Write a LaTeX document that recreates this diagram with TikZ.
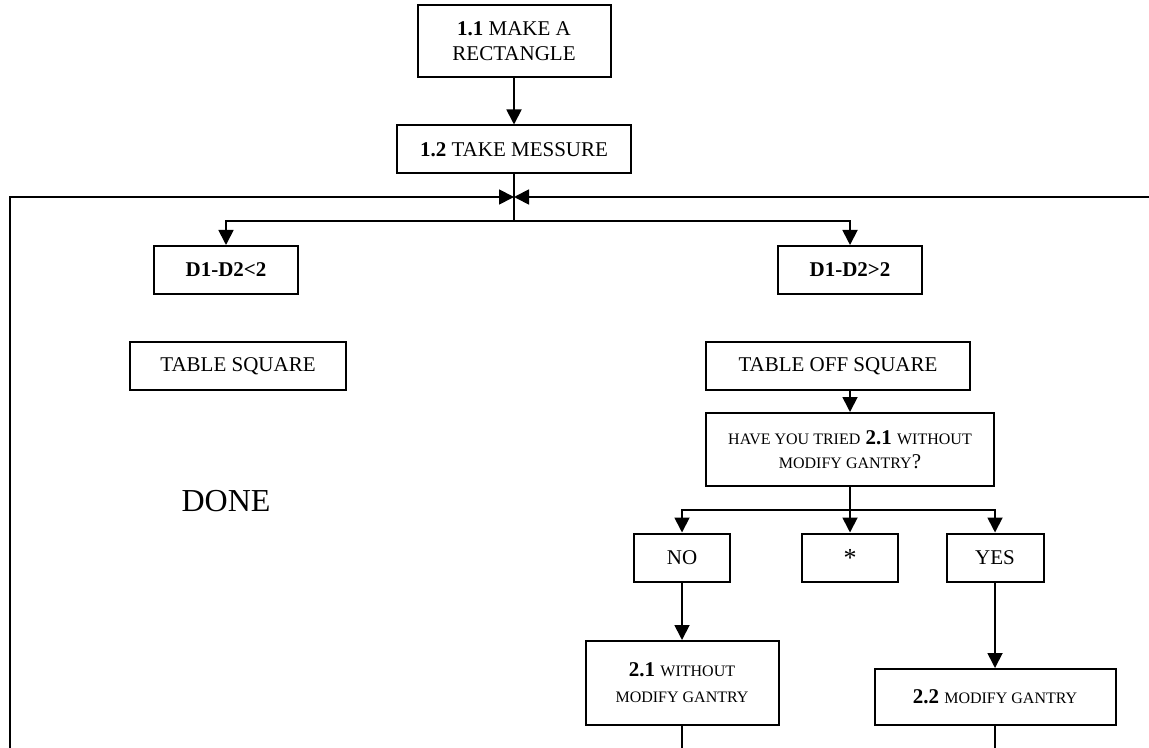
\documentclass[tikz,border=0pt]{standalone}
\usepackage{fontspec}
\setmainfont{Liberation Serif}
\usetikzlibrary{arrows.meta,positioning}
\newcommand{\lowcaps}[1]{{\fontsize{8}{12}\selectfont #1}}

\begin{document}
\begin{tikzpicture}[x=0.5pt,y=-0.5pt,>={Triangle[width=7.5pt,length=7.5pt]},
    line width=0.9pt,font=\fontsize{10.5}{12.5}\selectfont]
  \tikzset{box/.style={draw,line width=1pt,inner sep=0pt,align=center,minimum height=24pt}}
  \useasboundingbox (0,0) rectangle (1149,748);

  \node[box,minimum width=96.5pt,minimum height=36pt] (r11) at (514,41) {\textbf{1.1} MAKE A\\RECTANGLE};
  \node[box,minimum width=117pt] (r12) [below of=r11,node distance=54.25pt] {\textbf{1.2} TAKE MESSURE};

  \node[box,minimum width=72pt] (lt) at (226,270) {\textbf{D1-D2<2}};
  \node[box,minimum width=72pt] (gt) at (850,270) {\textbf{D1-D2>2}};

  \node[box,minimum width=108pt] (sq) at (238,366) {TABLE SQUARE};
  \node (done) [below of=lt,node distance=115.5pt,font=\fontsize{16}{18}\selectfont] {DONE};

  \node[box,minimum width=132pt] (off) at (838,366) {TABLE OFF SQUARE};
  \node[box,minimum width=144pt,minimum height=36.5pt,font=\fontsize{10.5}{12}\selectfont] (ask)
       [below of=gt,node distance=89.75pt]
       {\lowcaps{HAVE YOU TRIED} \textbf{2.1} \lowcaps{WITHOUT}\\\lowcaps{MODIFY GANTRY}?};

  \node[box,minimum width=48pt] (star) [below of=ask,node distance=54pt]
       {\raisebox{-0.32em}{\fontsize{13}{13}\selectfont *}};
  \node[box,minimum width=48pt] (no) [left of=star,node distance=84pt] {NO};
  \node[box,minimum width=48.5pt] (yes) [right of=star,node distance=72.5pt] {YES};

  \node[box,minimum width=96.5pt,minimum height=42pt,font=\fontsize{10.5}{13}\selectfont] (wo)
       [below of=no,node distance=62.75pt] {\textbf{2.1} \lowcaps{WITHOUT}\\\lowcaps{MODIFY GANTRY}};
  \node[box,minimum width=120.5pt,minimum height=28pt] (mg)
       [below of=yes,node distance=69.75pt] {\textbf{2.2} \lowcaps{MODIFY GANTRY}};

  \coordinate (meet) at (514,197);
  \coordinate (hub) at (514,221);
  \coordinate (lb) at (10,748);
  \coordinate (rt) at (1149,197);
  \coordinate (fork) at (850,510);
  \coordinate (woend) at (682,748);
  \coordinate (mgend) at (995,748);

  \draw[->] (r11) -- (r12);
  \draw (r12) -- (hub);
  \draw[->] (lb) |- (meet);
  \draw[->] (rt) -- (meet);
  \draw[->] (hub) -| (lt);
  \draw[->] (hub) -| (gt);
  \draw[->] (ask.north |- off.south) -- (ask);
  \draw (ask) -- (fork);
  \draw[->] (fork) -| (no);
  \draw[->] (fork) -- (star);
  \draw[->] (fork) -| (yes);
  \draw[->] (no) -- (wo);
  \draw[->] (yes) -- (mg);
  \draw (wo) -- (woend);
  \draw (mg) -- (mgend);
\end{tikzpicture}
\end{document}
